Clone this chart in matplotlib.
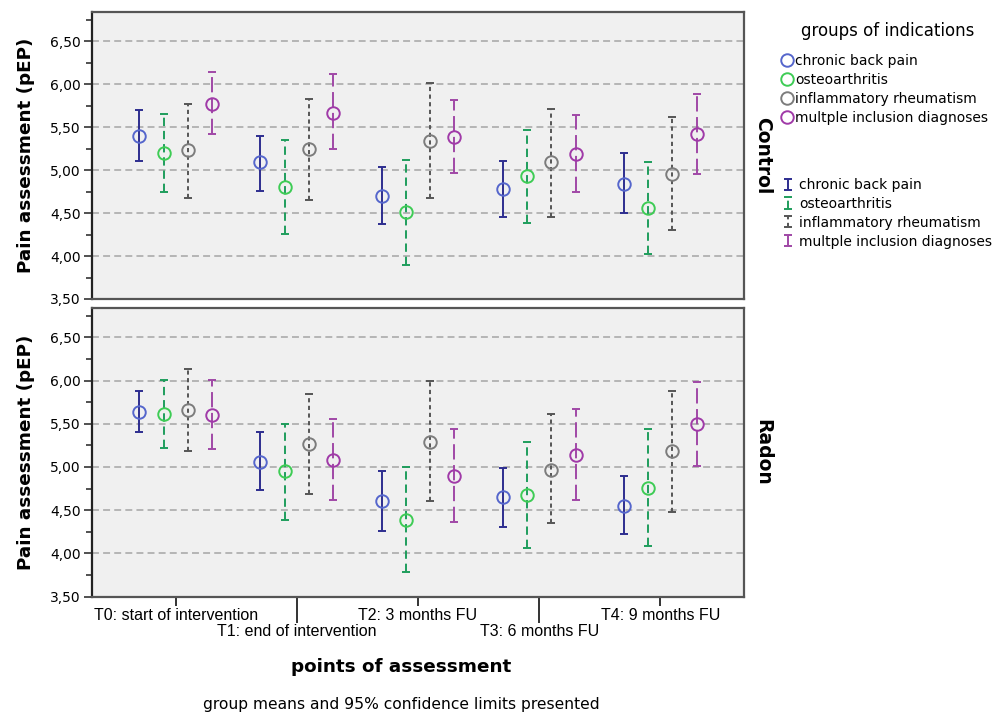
import matplotlib
matplotlib.use('Agg')
import matplotlib.pyplot as plt
import numpy as np
from matplotlib.ticker import FixedLocator, FuncFormatter
from matplotlib.container import ErrorbarContainer
from matplotlib.legend_handler import HandlerErrorbar

plt.rcParams['font.family'] = ['Liberation Sans', 'DejaVu Sans']
plt.rcParams['lines.scale_dashes'] = False

# ---------------- data ----------------
categories = ["T0: start of intervention", "T1: end of intervention",
              "T2: 3 months FU", "T3: 6 months FU", "T4: 9 months FU"]
groups = ["chronic back pain", "osteoarthritis", "inflammatory rheumatism",
          "multple inclusion diagnoses"]
panels = ["Control", "Radon"]

# Control: group means and 95% CI (lower, upper)
control_back_mean = [5.40, 5.09, 4.70, 4.78, 4.84]
control_back_low = [5.11, 4.76, 4.37, 4.45, 4.50]
control_back_high = [5.70, 5.40, 5.04, 5.11, 5.20]
control_osteo_mean = [5.20, 4.80, 4.51, 4.93, 4.56]
control_osteo_low = [4.74, 4.26, 3.90, 4.39, 4.02]
control_osteo_high = [5.65, 5.35, 5.12, 5.47, 5.10]
control_rheum_mean = [5.23, 5.24, 5.34, 5.09, 4.96]
control_rheum_low = [4.68, 4.65, 4.67, 4.46, 4.30]
control_rheum_high = [5.77, 5.83, 6.01, 5.71, 5.62]
control_multi_mean = [5.77, 5.67, 5.39, 5.19, 5.42]
control_multi_low = [5.42, 5.25, 4.97, 4.74, 4.96]
control_multi_high = [6.14, 6.12, 5.82, 5.64, 5.88]

# Radon
radon_back_mean = [5.64, 5.06, 4.60, 4.65, 4.55]
radon_back_low = [5.41, 4.73, 4.26, 4.30, 4.22]
radon_back_high = [5.88, 5.40, 4.95, 4.99, 4.89]
radon_osteo_mean = [5.61, 4.95, 4.39, 4.67, 4.76]
radon_osteo_low = [5.22, 4.39, 3.78, 4.06, 4.08]
radon_osteo_high = [6.01, 5.50, 5.00, 5.29, 5.44]
radon_rheum_mean = [5.66, 5.27, 5.29, 4.97, 5.18]
radon_rheum_low = [5.19, 4.69, 4.61, 4.35, 4.48]
radon_rheum_high = [6.13, 5.84, 5.99, 5.61, 5.88]
radon_multi_mean = [5.60, 5.08, 4.90, 5.14, 5.50]
radon_multi_low = [5.21, 4.62, 4.36, 4.62, 5.01]
radon_multi_high = [6.01, 5.55, 5.44, 5.67, 5.98]

yticks = [3.5, 4.0, 4.5, 5.0, 5.5, 6.0, 6.5]

panel_data = {
    "Control": [(control_back_mean, control_back_low, control_back_high),
                (control_osteo_mean, control_osteo_low, control_osteo_high),
                (control_rheum_mean, control_rheum_low, control_rheum_high),
                (control_multi_mean, control_multi_low, control_multi_high)],
    "Radon": [(radon_back_mean, radon_back_low, radon_back_high),
              (radon_osteo_mean, radon_osteo_low, radon_osteo_high),
              (radon_rheum_mean, radon_rheum_low, radon_rheum_high),
              (radon_multi_mean, radon_multi_low, radon_multi_high)],
}

# ---------------- style ----------------
marker_colors = ['#5566cc', '#3ecc55', '#7c7c7c', '#a03aa8']
bar_colors = ['#2d2d8f', '#1f9d5c', '#555555', '#a048a6']
bar_styles = ['-', (0, (6, 3.5)), (0, (3, 2.5)), (0, (11, 4))]
offsets = [-0.3, -0.1, 0.1, 0.3]
WIDE = ['DejaVu Sans']

W, H = 1003, 715
fig = plt.figure(figsize=(W / 100, H / 100), dpi=100)
ax_top = fig.add_axes([92 / W, 1 - 299 / H, 652 / W, 287 / H])
ax_bot = fig.add_axes([92 / W, 1 - 596.5 / H, 652 / W, 288.5 / H])

fmt = FuncFormatter(lambda v, p: f"{v:.2f}".replace('.', ','))
marker_handles = []
bar_handles = []

for ax, pname in zip([ax_top, ax_bot], panels):
    ax.set_facecolor('#f0f0f0')
    x = np.arange(len(categories))
    for gi, (m, lo, hi) in enumerate(panel_data[pname]):
        m = np.array(m); lo = np.array(lo); hi = np.array(hi)
        xs = x + offsets[gi]
        eb = ax.errorbar(xs, m, yerr=[m - lo, hi - m], fmt='none',
                         ecolor=bar_colors[gi], elinewidth=1.4,
                         capsize=2.6, capthick=1.4, label=groups[gi], zorder=3)
        eb.lines[2][0].set_linestyle(bar_styles[gi])
        ln, = ax.plot(xs, m, 'o', ms=9, mfc='none', mec=marker_colors[gi],
                      mew=1.4, label=groups[gi], zorder=4)
        if pname == "Control":
            marker_handles.append(ln)
            bar_handles.append(eb)
    ax.set_xlim(-0.69, 4.69)
    ax.set_ylim(3.5, 6.84)
    ax.yaxis.set_major_locator(FixedLocator(yticks))
    ax.yaxis.set_minor_locator(FixedLocator(np.arange(3.75, 6.8, 0.5)))
    ax.yaxis.set_major_formatter(fmt)
    for lab in ax.get_yticklabels():
        lab.set_family(WIDE)
    ax.yaxis.grid(True, which='major', linestyle=(0, (5, 3)), color='#ababab', lw=1.2)
    ax.set_axisbelow(True)
    ax.tick_params(axis='y', which='major', direction='out', length=6, width=1.2,
                   labelsize=10, color='#333333', pad=2)
    ax.tick_params(axis='y', which='minor', direction='out', length=4, width=1.2,
                   color='#333333')
    for s in ax.spines.values():
        s.set_color('#555555')
        s.set_linewidth(1.6)
    ax.spines['left'].set_color('#222222')
    yc = (ax.get_position().y0 + ax.get_position().y1) / 2
    fig.text(26 / W, yc, 'Pain assessment (pEP)', rotation=90, ha='center',
             va='center', fontsize=13.2, fontweight='bold', family=WIDE)
    fig.text(763 / W, yc, pname, rotation=270, ha='center', va='center',
             fontsize=13.5, fontweight='bold', family=WIDE)

ax_top.tick_params(axis='x', bottom=False, labelbottom=False)
ax_bot.set_xticks(np.arange(len(categories)))
ax_bot.set_xticklabels(categories, fontsize=11.5)
ax_bot.tick_params(axis='x', direction='out', length=6.5, width=1.4,
                   color='#333333', pad=1.5)
for i, t in enumerate(ax_bot.xaxis.get_major_ticks()):
    if i % 2 == 1:
        t._apply_params(size=18.5, pad=1.5)

fig.text(401 / W, 1 - 667 / H, 'points of assessment', ha='center', va='center',
         fontsize=13.2, fontweight='bold', family=WIDE)
fig.text(401 / W, 1 - 705 / H, 'group means and 95% confidence limits presented',
         ha='center', va='center', fontsize=11.2, family=WIDE)

# legends
fig.text(888 / W, 1 - 31 / H, 'groups of indications', ha='center', va='center',
         fontsize=12, family=WIDE)
fig.legend(marker_handles, groups, loc='upper left',
           bbox_to_anchor=(781 / W, 1 - 54 / H), frameon=False,
           handlelength=0.9, handletextpad=0.1, labelspacing=0.35,
           borderpad=0, borderaxespad=0, numpoints=1,
           prop={'family': WIDE, 'size': 10})
fig.legend(bar_handles, groups, loc='upper left',
           bbox_to_anchor=(781 / W, 1 - 178 / H), frameon=False,
           handlelength=1.0, handletextpad=0.3, labelspacing=0.35,
           borderpad=0, borderaxespad=0,
           prop={'family': WIDE, 'size': 10},
           handler_map={ErrorbarContainer: HandlerErrorbar(yerr_size=0.4)})

fig.savefig('out.png', dpi=100)
